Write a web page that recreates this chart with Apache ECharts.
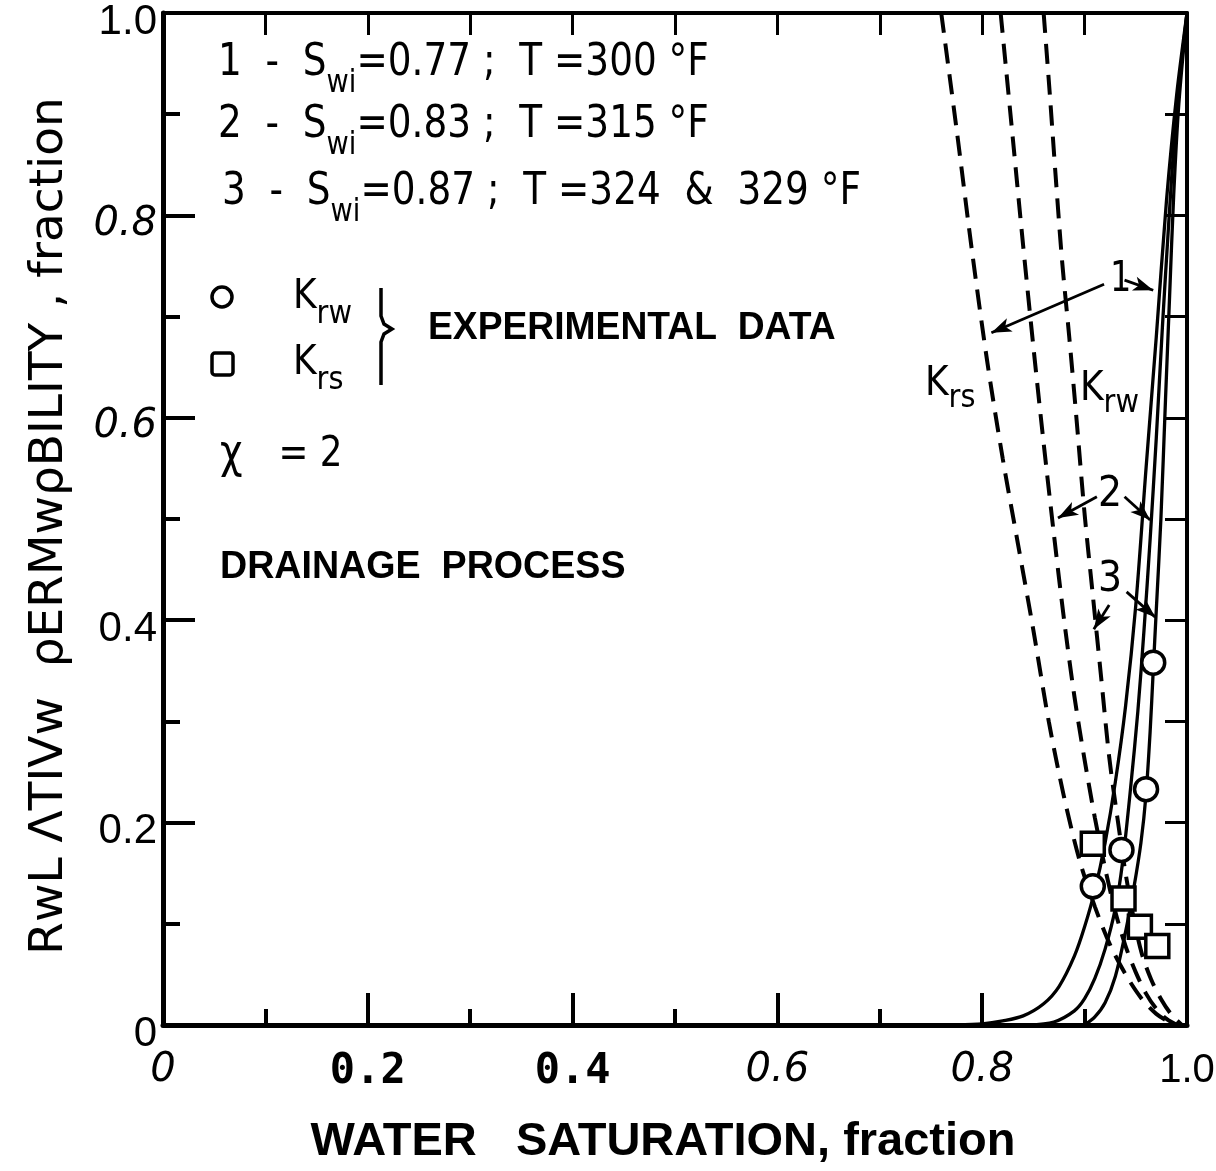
<!DOCTYPE html>
<html><head><meta charset="utf-8">
<script src="https://cdn.jsdelivr.net/npm/echarts@6/dist/echarts.min.js"></script>
<style>html,body{margin:0;padding:0;background:#fff}#c{width:1216px;height:1171px}</style>
</head><body><div id="c"></div>
<script>
// ---- data ----
const xTickLabels = ['0', '0.2', '0.4', '0.6', '0.8', '1.0'];
const yTickLabels = ['0', '0.2', '0.4', '0.6', '0.8', '1.0'];
// Krw model curves (solid)
const krw1 = [[0.775,0],[0.80,0.001],[0.82,0.004],[0.84,0.009],[0.86,0.021],[0.875,0.038],[0.89,0.068],[0.90,0.097],[0.91,0.133],[0.92,0.180],[0.93,0.240],[0.94,0.315],[0.95,0.415],[0.96,0.550],[0.97,0.680],[0.98,0.815],[0.99,0.920],[1.0,1.0]];
const krw2 = [[0.845,0],[0.87,0.003],[0.89,0.014],[0.90,0.026],[0.91,0.046],[0.92,0.075],[0.93,0.115],[0.937,0.160],[0.945,0.235],[0.952,0.310],[0.958,0.390],[0.964,0.480],[0.970,0.580],[0.976,0.690],[0.982,0.790],[0.988,0.880],[0.994,0.945],[1.0,1.0]];
const krw3 = [[0.900,0],[0.91,0.008],[0.92,0.022],[0.93,0.048],[0.94,0.092],[0.948,0.135],[0.955,0.180],[0.960,0.228],[0.964,0.290],[0.967,0.350],[0.970,0.410],[0.9745,0.500],[0.979,0.618],[0.983,0.720],[0.987,0.820],[0.992,0.910],[1.0,1.0]];
// Krs model curves (dashed)
const krs1 = [[0.760,1.0],[0.775,0.885],[0.790,0.765],[0.805,0.655],[0.820,0.560],[0.835,0.475],[0.850,0.390],[0.865,0.300],[0.880,0.225],[0.895,0.163],[0.910,0.117],[0.925,0.079],[0.940,0.050],[0.955,0.027],[0.970,0.011],[0.985,0.002],[0.995,0]];
const krs2 = [[0.818,1.0],[0.830,0.875],[0.840,0.770],[0.850,0.670],[0.860,0.575],[0.870,0.485],[0.880,0.400],[0.890,0.325],[0.900,0.262],[0.910,0.205],[0.920,0.155],[0.930,0.112],[0.940,0.078],[0.950,0.052],[0.960,0.031],[0.970,0.016],[0.980,0.006],[0.990,0]];
const krs3 = [[0.860,1.0],[0.866,0.920],[0.872,0.835],[0.878,0.755],[0.885,0.680],[0.892,0.600],[0.900,0.505],[0.908,0.425],[0.916,0.345],[0.924,0.265],[0.932,0.205],[0.940,0.150],[0.948,0.105],[0.956,0.070],[0.965,0.045],[0.975,0.025],[0.985,0.010],[0.995,0]];
// experimental data
const krwExp = [[0.908,0.137],[0.936,0.173],[0.960,0.233],[0.967,0.358]];
const krsExp = [[0.908,0.179],[0.938,0.125],[0.954,0.097],[0.971,0.078]];
// leader arrows (data coords): [from, to]
const leaders = [
  [[0.919,0.732],[0.809,0.684]],
  [[0.939,0.736],[0.967,0.726]],
  [[0.939,0.522],[0.964,0.499]],
  [[0.912,0.522],[0.874,0.501]],
  [[0.941,0.428],[0.969,0.403]],
  [[0.924,0.415],[0.909,0.391]]
];

// ---- helpers ----
const mctx = document.createElement('canvas').getContext('2d');
function tw(t, fam, size, weight) {
  mctx.font = 'normal ' + (weight||'normal') + ' ' + size + 'px ' + fam;
  return mctx.measureText(t).width;
}
const FAM = '"DejaVu Sans", sans-serif';
const FAMB = '"Liberation Sans", Arial, sans-serif';
function seq(x0, y, parts, sx) {
  let x = x0; const out = [];
  parts.forEach(p => {
    const size = p.size || 44;
    const fam = p.fam || (p.bold ? FAMB : FAM);
    out.push({type:'text', x: x, y: y + (p.dy||0), scaleX: sx, z: 10,
      style:{text:p.t, fontFamily: fam, fontSize:size, fontWeight:p.bold?'bold':'normal',
        fill:'#000', textAlign:'left', textVerticalAlign:'middle', align:'left', verticalAlign:'middle'}});
    x += tw(p.t, fam, size, p.bold?'bold':'normal') * sx + (p.gap||0);
  });
  return out;
}

const chart = echarts.init(document.getElementById('c'), null, {renderer:'canvas'});

const xRich = {
  it:{fontFamily:'"DejaVu Sans"', fontStyle:'italic', fontSize:40, color:'#000'},
  bd:{fontFamily:'"DejaVu Sans Mono"', fontWeight:'bold', fontSize:42, color:'#000'},
  nr:{fontFamily:'"Liberation Sans Narrow", "Liberation Sans"', fontSize:40, color:'#000'}
};
const xStyleOf = ['it','bd','bd','it','it','nr'];
const yRich = {
  it:{fontFamily:'"DejaVu Sans"', fontStyle:'italic', fontSize:40, color:'#000', padding:[18,0,0,0]},
  rg:{fontFamily:'"Liberation Sans"', fontSize:42, color:'#000', padding:[18,0,0,0]},
  nr:{fontFamily:'"Liberation Sans Narrow", "Liberation Sans"', fontSize:42, color:'#000', padding:[18,0,0,0]}
};
const yStyleOf = ['rg','rg','rg','it','it','nr'];

const black = '#000';
const solid = d => ({type:'line', data:d, smooth:0.3, symbol:'none', clip:true,
  lineStyle:{color:black, width:3.3}, z:3});
const dashed = d => ({type:'line', data:d, smooth:0.3, symbol:'none', clip:true,
  lineStyle:{color:black, width:4, type:[20,11]}, z:2});

const graphics = [].concat(
  seq(218, 64, [{t:'1  -  S'},{t:'wi', size:32, dy:20},{t:'=0.77 ;  T =300 °F'}], 0.85),
  seq(218, 126, [{t:'2  -  S'},{t:'wi', size:32, dy:20},{t:'=0.83 ;  T =315 °F'}], 0.85),
  seq(222, 193, [{t:'3  -  S'},{t:'wi', size:32, dy:20},{t:'=0.87 ;  T =324  &  329 °F'}], 0.85),
  seq(293, 298, [{t:'K', size:40},{t:'rw', size:32, dy:17}], 0.9),
  seq(293, 364, [{t:'K', size:40},{t:'rs', size:32, dy:17}], 0.9),
  seq(428, 329, [{t:'EXPERIMENTAL  DATA', bold:true, size:38}], 0.98),
  seq(220, 455, [{t:'χ', size:46, gap:36},{t:'= 2', size:42}], 0.85),
  seq(220, 568, [{t:'DRAINAGE  PROCESS', bold:true, size:38}], 0.99),
  seq(925, 385, [{t:'K', size:40},{t:'rs', size:32, dy:14}], 0.9),
  seq(1080, 390, [{t:'K', size:40},{t:'rw', size:32, dy:14}], 0.9),
  seq(1110, 280, [{t:'1', size:42}], 0.8),
  seq(1098, 495, [{t:'2', size:42}], 0.9),
  seq(1098, 580, [{t:'3', size:42}], 0.9),
  [
    {type:'circle', shape:{cx:222, cy:297, r:10}, style:{fill:'#fff', stroke:black, lineWidth:3.5}, z:10},
    {type:'rect', shape:{x:212, y:353, width:21, height:22, r:3}, style:{fill:'#fff', stroke:black, lineWidth:3.5}, z:10},
    {type:'polyline', shape:{points:[[381,288],[381,316],[384,324],[392,329],[384,334],[381,342],[381,385]]},
      style:{stroke:black, lineWidth:3.5, fill:null}, z:10}
  ]
);

chart.setOption({
  animation:false,
  backgroundColor:'#fff',
  grid:{left:163, right:29, top:13, bottom:146, containLabel:false, outerBoundsMode:'none'},
  xAxis:[{
    type:'value', min:0, max:1, interval:0.2, position:'bottom',
    axisLine:{show:true, onZero:false, lineStyle:{color:black, width:5}},
    axisTick:{show:true, inside:true, length:32, lineStyle:{color:black, width:4}},
    minorTick:{show:true, splitNumber:2, length:16, lineStyle:{color:black, width:4}},
    splitLine:{show:false}, minorSplitLine:{show:false},
    axisLabel:{show:true, margin:26, showMinLabel:true, showMaxLabel:true,
      formatter:(v)=>{const i=Math.round(v*5); return '{'+xStyleOf[i]+'|'+xTickLabels[i]+'}';}, rich:xRich},
    name:'WATER   SATURATION, fraction', nameLocation:'middle', nameGap:94,
    nameTextStyle:{fontFamily:'"Liberation Sans"', fontWeight:'bold', fontSize:47, color:black, padding:[0,24,0,0]}
  },{
    type:'value', min:0, max:1, interval:0.1, position:'top',
    axisLine:{show:true, onZero:false, lineStyle:{color:black, width:4}},
    axisTick:{show:true, inside:true, length:22, lineStyle:{color:black, width:3}},
    axisLabel:{show:false}, splitLine:{show:false}
  }],
  yAxis:[{
    type:'value', min:0, max:1, interval:0.2, position:'left',
    axisLine:{show:true, onZero:false, lineStyle:{color:black, width:5}},
    axisTick:{show:true, inside:true, length:32, lineStyle:{color:black, width:4}},
    minorTick:{show:true, splitNumber:2, length:17, lineStyle:{color:black, width:4}},
    splitLine:{show:false}, minorSplitLine:{show:false},
    axisLabel:{show:true, margin:6, showMinLabel:true, showMaxLabel:true,
      formatter:(v)=>{const i=Math.round(v*5); return '{'+yStyleOf[i]+'|'+yTickLabels[i]+'}';}, rich:yRich},
    name:'RwL ΛTIVw  ρERMwρBILITY , fraction', nameLocation:'middle', nameGap:90,
    nameTextStyle:{fontFamily:'"DejaVu Sans"', fontSize:47, color:black, padding:[0,14,0,0]}
  },{
    type:'value', min:0, max:1, interval:0.1, position:'right',
    axisLine:{show:true, onZero:false, lineStyle:{color:black, width:4}},
    axisTick:{show:true, inside:true, length:22, lineStyle:{color:black, width:3}},
    axisLabel:{show:false}, splitLine:{show:false}
  }],
  series:[
    Object.assign(solid(krw1), {
      markLine:{silent:true, symbol:['none','arrow'], symbolSize:[11,20], precision:4,
        lineStyle:{color:black, width:2.8, type:'solid', opacity:1}, label:{show:false},
        emphasis:{disabled:true},
        data: leaders.map(l => [{coord:l[0]},{coord:l[1]}])}
    }),
    solid(krw2), solid(krw3),
    dashed(krs1), dashed(krs2), dashed(krs3),
    {type:'scatter', data:krwExp, symbol:'circle', symbolSize:23, z:6,
      itemStyle:{color:'#fff', borderColor:black, borderWidth:3.5, opacity:1}},
    {type:'scatter', data:krsExp, symbol:'rect', symbolSize:23, z:6,
      itemStyle:{color:'#fff', borderColor:black, borderWidth:3.5, opacity:1}}
  ],
  graphic: graphics
});
</script></body></html>
